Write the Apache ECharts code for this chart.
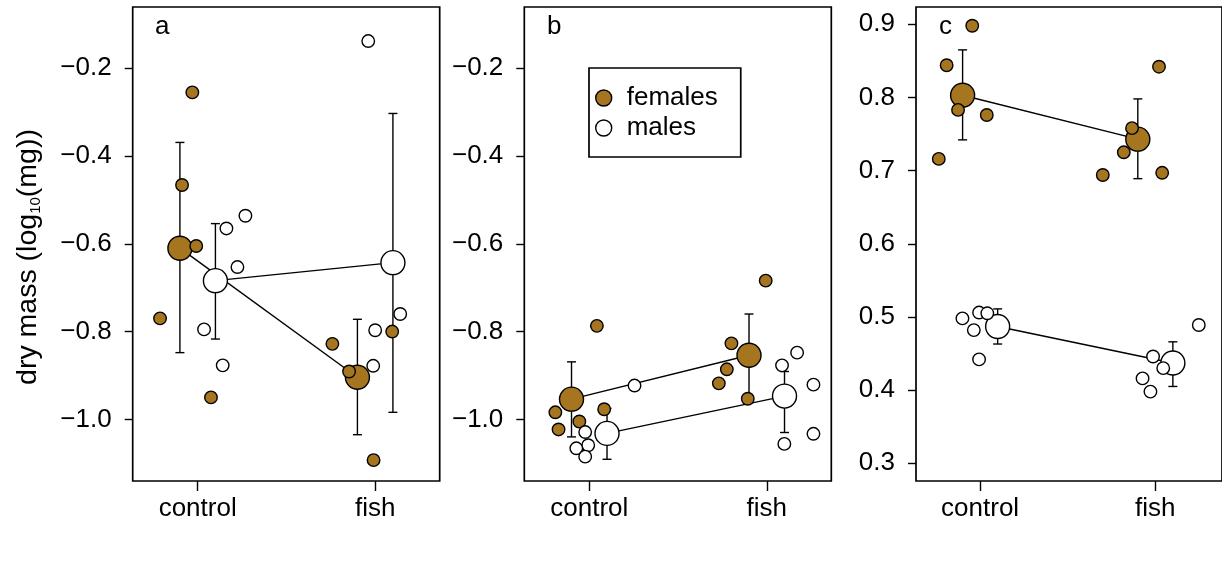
<!DOCTYPE html>
<html>
<head>
<meta charset="utf-8">
<script src="https://cdn.jsdelivr.net/npm/echarts@6/dist/echarts.min.js"></script>
<style>
html,body{margin:0;padding:0;background:#fff;}
#chart{width:1222px;height:566px;}
</style>
</head>
<body>
<div id="chart"></div>
<script>
// ---- data ----
const categories = ['control', 'fish'];
const panelLetters = ['a', 'b', 'c'];
const yTicksAB = [-1.0, -0.8, -0.6, -0.4, -0.2];
const yTicksC = [0.3, 0.4, 0.5, 0.6, 0.7, 0.8, 0.9];

// panel a
const aFemales = [[0.970,-0.255],[0.912,-0.466],[0.992,-0.605],[0.788,-0.770],[1.075,-0.950],
                  [1.759,-0.828],[1.853,-0.891],[2.096,-0.800],[1.991,-1.093]];
const aMales = [[1.162,-0.565],[1.269,-0.536],[1.224,-0.653],[1.036,-0.795],[1.141,-0.877],
                [1.961,-0.138],[2.141,-0.760],[2.000,-0.797],[1.989,-0.878]];
const aFemaleMeans = [[0.9,-0.610],[1.9,-0.904]];
const aFemaleErr = [[0.9,-0.848,-0.369],[1.9,-1.035,-0.772]];
const aMaleMeans = [[1.1,-0.684],[2.1,-0.643]];
const aMaleErr = [[1.1,-0.817,-0.554],[2.1,-0.984,-0.303]];

// panel b
const bFemales = [[1.043,-0.787],[0.809,-0.984],[1.084,-0.977],[0.944,-1.005],[0.827,-1.023],
                  [1.994,-0.684],[1.801,-0.827],[1.775,-0.886],[1.730,-0.918],[1.893,-0.953]];
const bMales = [[1.255,-0.923],[0.977,-1.029],[0.994,-1.059],[0.927,-1.066],[0.977,-1.085],
                [2.171,-0.848],[2.086,-0.877],[2.263,-0.921],[2.263,-1.033],[2.099,-1.056]];
const bFemaleMeans = [[0.9,-0.954],[1.9,-0.854]];
const bFemaleErr = [[0.9,-1.040,-0.869],[1.9,-0.948,-0.760]];
const bMaleMeans = [[1.1,-1.032],[2.1,-0.947]];
const bMaleErr = [[1.1,-1.091,-0.975],[2.1,-1.030,-0.891]];

// panel c
const cFemales = [[0.955,0.898],[0.809,0.844],[0.874,0.783],[1.038,0.776],[0.764,0.716],
                  [2.021,0.842],[1.867,0.758],[1.820,0.725],[1.700,0.694],[2.039,0.697]];
const cMales = [[0.899,0.498],[0.994,0.506],[1.041,0.505],[0.964,0.482],[0.994,0.442],
                [2.248,0.489],[1.987,0.446],[2.045,0.430],[1.927,0.416],[1.972,0.398]];
const cFemaleMeans = [[0.9,0.803],[1.9,0.743]];
const cFemaleErr = [[0.9,0.742,0.865],[1.9,0.689,0.798]];
const cMaleMeans = [[1.1,0.487],[2.1,0.437]];
const cMaleErr = [[1.1,0.463,0.511],[2.1,0.405,0.466]];

// ---- styling ----
const BROWN = '#A67520';
const FONT = '"Liberation Sans", Arial, Helvetica, sans-serif';
const LW = 1.4;
const FRAME = 1.7;

const panels = [
  {left:132.7, width:307, ticks:yTicksAB, ymin:-1.1405, ymax:-0.0604,
   f:aFemales, m:aMales, fm:aFemaleMeans, fe:aFemaleErr, mm:aMaleMeans, me:aMaleErr},
  {left:524.3, width:307, ticks:yTicksAB, ymin:-1.1405, ymax:-0.0604,
   f:bFemales, m:bMales, fm:bFemaleMeans, fe:bFemaleErr, mm:bMaleMeans, me:bMaleErr},
  {left:916, width:310, ticks:yTicksC, ymin:0.2758, ymax:0.9236,
   f:cFemales, m:cMales, fm:cFemaleMeans, fe:cFemaleErr, mm:cMaleMeans, me:cMaleErr}
];

const fmtY = v => (v < 0 ? '\u2212' : '') + Math.abs(v).toFixed(1);

function errRender(params, api) {
  const x = api.value(0), lo = api.value(1), hi = api.value(2);
  const p1 = api.coord([x, lo]), p2 = api.coord([x, hi]);
  const hw = 4.5;
  const st = {stroke:'#000', lineWidth:LW};
  return {type:'group', children:[
    {type:'line', shape:{x1:p1[0], y1:p1[1], x2:p2[0], y2:p2[1]}, style:st},
    {type:'line', shape:{x1:p1[0]-hw, y1:p1[1], x2:p1[0]+hw, y2:p1[1]}, style:st},
    {type:'line', shape:{x1:p2[0]-hw, y1:p2[1], x2:p2[0]+hw, y2:p2[1]}, style:st}
  ]};
}

const grids = [], xAxes = [], yAxes = [], series = [];
panels.forEach((p, i) => {
  const xmax = 0.634 + p.width / 177.5;
  grids.push({left:p.left, top:7, width:p.width, height:474, show:true,
              borderColor:'#000', borderWidth:FRAME, backgroundColor:'transparent'});
  xAxes.push({type:'value', gridIndex:i, min:0.634, max:xmax,
    splitLine:{show:false}, axisLine:{show:false},
    axisTick:{show:true, customValues:[1,2], length:10, lineStyle:{color:'#000', width:LW}},
    axisLabel:{show:true, customValues:[1,2], margin:15, fontSize:26, color:'#000', fontFamily:FONT,
               formatter: v => categories[Math.round(v) - 1]}});
  yAxes.push({type:'value', gridIndex:i, min:p.ymin, max:p.ymax,
    splitLine:{show:false}, axisLine:{show:false},
    axisTick:{show:true, customValues:p.ticks, length:8, lineStyle:{color:'#000', width:LW}},
    axisLabel:{show:true, customValues:p.ticks, margin:21, fontSize:26, color:'#000', fontFamily:FONT,
               formatter: fmtY}});
  // error bars
  [p.fe, p.me].forEach((d, k) => series.push({type:'custom', name:'err'+i+k, xAxisIndex:i, yAxisIndex:i,
    data:d, renderItem:errRender, encode:{x:0, y:[1,2]}, silent:true, z:2}));
  // lines between means
  [p.fm, p.mm].forEach((d, k) => series.push({type:'line', name:'line'+i+k, xAxisIndex:i, yAxisIndex:i,
    data:d, symbol:'none', lineStyle:{color:'#000', width:LW}, silent:true, z:3}));
  // means
  series.push({type:'scatter', name:'fmean'+i, xAxisIndex:i, yAxisIndex:i, data:p.fm, symbolSize:24,
    itemStyle:{color:BROWN, borderColor:'#000', borderWidth:LW, opacity:1}, z:4, silent:true});
  series.push({type:'scatter', name:'mmean'+i, xAxisIndex:i, yAxisIndex:i, data:p.mm, symbolSize:24,
    itemStyle:{color:'#fff', borderColor:'#000', borderWidth:LW, opacity:1}, z:4, silent:true});
  // individual points
  series.push({type:'scatter', name:'females', xAxisIndex:i, yAxisIndex:i, data:p.f, symbolSize:12.5,
    itemStyle:{color:BROWN, borderColor:'#000', borderWidth:LW, opacity:1}, z:5, silent:true});
  series.push({type:'scatter', name:'males', xAxisIndex:i, yAxisIndex:i, data:p.m, symbolSize:12.5,
    itemStyle:{color:'#fff', borderColor:'#000', borderWidth:LW, opacity:1}, z:5, silent:true});
});

const letterPos = [[155, 14], [547, 14], [939, 14]];
const graphics = panelLetters.map((t, i) => ({type:'text', left:letterPos[i][0], top:letterPos[i][1],
  style:{text:t, font:'26px ' + FONT, fill:'#000'}, z:10}));
graphics.push({type:'text', x:28, y:257, rotation:Math.PI/2, z:10,
  style:{text:'{a|dry mass (log}{s|10}{a|(mg))}', fill:'#000', align:'center', verticalAlign:'middle',
    rich:{a:{fontSize:28.5, fontFamily:FONT, color:'#000', lineHeight:30},
          s:{fontSize:15, fontFamily:FONT, color:'#000', lineHeight:30, verticalAlign:'bottom', padding:[0,0,0,0]}}}});

const chart = echarts.init(document.getElementById('chart'), null, {renderer:'canvas'});
chart.setOption({
  animation:false,
  backgroundColor:'#fff',
  grid:grids, xAxis:xAxes, yAxis:yAxes, series:series,
  graphic:graphics,
  legend:{show:true, orient:'vertical', left:589, top:68,
    data:[{name:'females', icon:'circle', itemStyle:{color:BROWN, borderColor:'#000', borderWidth:LW}},
          {name:'males', icon:'circle', itemStyle:{color:'#fff', borderColor:'#000', borderWidth:LW}}],
    itemWidth:36, itemHeight:16, itemGap:4,
    padding:[17, 23, 16, 6],
    borderColor:'#000', borderWidth:FRAME, borderRadius:0, backgroundColor:'#fff',
    textStyle:{fontSize:26, fontFamily:FONT, color:'#000', lineHeight:25},
    selectedMode:false}
});
</script>
</body>
</html>
